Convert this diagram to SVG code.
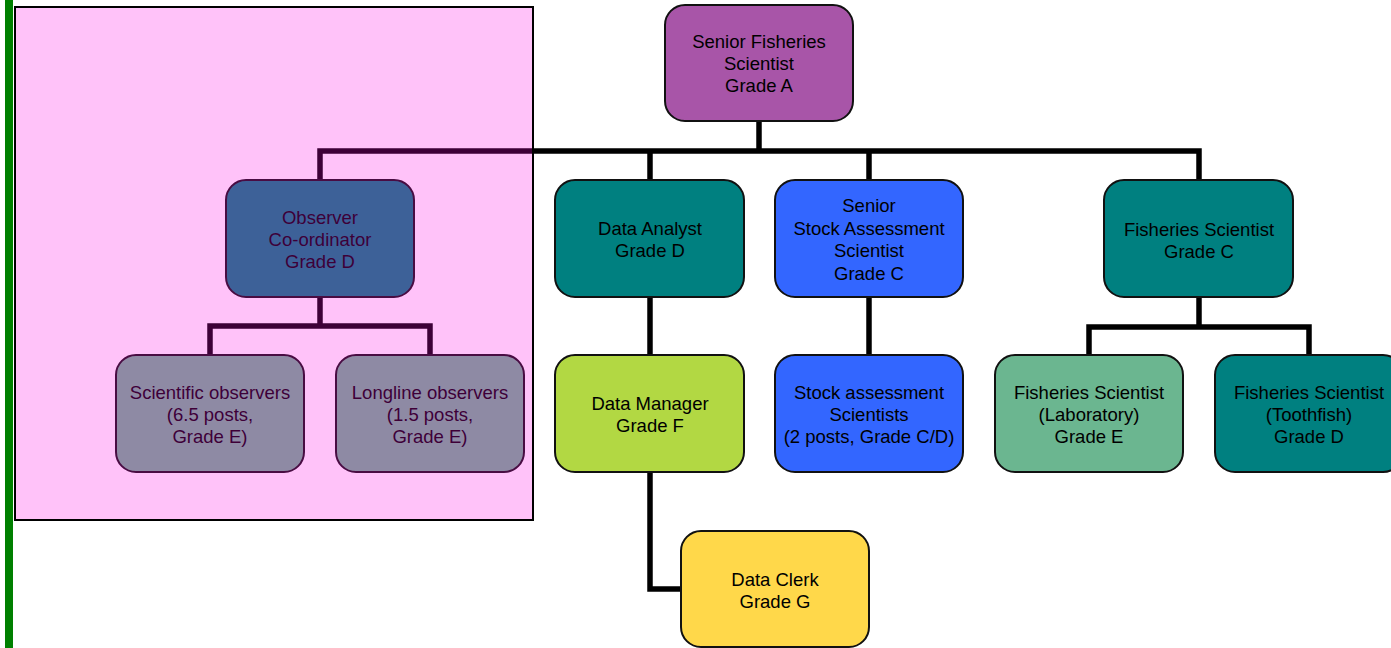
<svg xmlns="http://www.w3.org/2000/svg" width="1391" height="648" viewBox="0 0 1391 648">
<style>
.box{stroke:#111;stroke-width:2}
.t{font-family:"Liberation Sans",Arial,sans-serif;font-size:18.5px;fill:#000;text-anchor:middle}
.c{fill:none;stroke:#000;stroke-width:5.5;stroke-linejoin:miter}
</style>
<rect x="0" y="0" width="1391" height="648" fill="#fff"/>
<rect x="5" y="0" width="8" height="648" fill="#008000"/>
<g id="connectors">
<path class="c" d="M759,121 V151"/>
<path class="c" d="M320,180 V151 H1199 V180"/>
<path class="c" d="M650,151 V180"/>
<path class="c" d="M869,151 V180"/>
<path class="c" d="M320,297 V326"/>
<path class="c" d="M210,355 V326 H430 V355"/>
<path class="c" d="M650,297 V355"/>
<path class="c" d="M650,472 V589 H681"/>
<path class="c" d="M869,297 V355"/>
<path class="c" d="M1199,297 V327"/>
<path class="c" d="M1089,355 V327 H1309 V355"/>
</g>
<g id="n-senior">
<rect class="box" x="665" y="5" width="188" height="116" rx="20" fill="#A855A8"/>
<text class="t" x="759" y="48">Senior Fisheries</text>
<text class="t" x="759" y="70">Scientist</text>
<text class="t" x="759" y="92">Grade A</text>
</g>
<g id="n-observer-coord">
<rect class="box" x="226" y="180" width="188" height="117" rx="20" fill="#008080"/>
<text class="t" x="320" y="224">Observer</text>
<text class="t" x="320" y="246">Co-ordinator</text>
<text class="t" x="320" y="268">Grade D</text>
</g>
<g id="n-data-analyst">
<rect class="box" x="555" y="180" width="189" height="117" rx="20" fill="#008080"/>
<text class="t" x="650" y="235">Data Analyst</text>
<text class="t" x="650" y="257">Grade D</text>
</g>
<g id="n-senior-stock">
<rect class="box" x="775" y="180" width="188" height="117" rx="20" fill="#3366FF"/>
<text class="t" x="869" y="212">Senior</text>
<text class="t" x="869" y="235">Stock Assessment</text>
<text class="t" x="869" y="257">Scientist</text>
<text class="t" x="869" y="280">Grade C</text>
</g>
<g id="n-fish-c">
<rect class="box" x="1104" y="180" width="189" height="117" rx="20" fill="#008080"/>
<text class="t" x="1199" y="236">Fisheries Scientist</text>
<text class="t" x="1199" y="258">Grade C</text>
</g>
<g id="n-sci-obs">
<rect class="box" x="116" y="355" width="188" height="117" rx="20" fill="#6BB690"/>
<text class="t" x="210" y="399">Scientific observers</text>
<text class="t" x="210" y="421">(6.5 posts,</text>
<text class="t" x="210" y="443">Grade E)</text>
</g>
<g id="n-long-obs">
<rect class="box" x="336" y="355" width="188" height="117" rx="20" fill="#6BB690"/>
<text class="t" x="430" y="399">Longline observers</text>
<text class="t" x="430" y="421">(1.5 posts,</text>
<text class="t" x="430" y="443">Grade E)</text>
</g>
<g id="n-data-manager">
<rect class="box" x="555" y="355" width="189" height="117" rx="20" fill="#B2D843"/>
<text class="t" x="650" y="410">Data Manager</text>
<text class="t" x="650" y="432">Grade F</text>
</g>
<g id="n-stock-sci">
<rect class="box" x="775" y="355" width="188" height="117" rx="20" fill="#3366FF"/>
<text class="t" x="869" y="399">Stock assessment</text>
<text class="t" x="869" y="421">Scientists</text>
<text class="t" x="869" y="443">(2 posts, Grade C/D)</text>
</g>
<g id="n-fish-lab">
<rect class="box" x="995" y="355" width="188" height="117" rx="20" fill="#6BB690"/>
<text class="t" x="1089" y="399">Fisheries Scientist</text>
<text class="t" x="1089" y="421">(Laboratory)</text>
<text class="t" x="1089" y="443">Grade E</text>
</g>
<g id="n-fish-tooth">
<rect class="box" x="1215" y="355" width="188" height="117" rx="20" fill="#008080"/>
<text class="t" x="1309" y="399">Fisheries Scientist</text>
<text class="t" x="1309" y="421">(Toothfish)</text>
<text class="t" x="1309" y="443">Grade D</text>
</g>
<g id="n-data-clerk">
<rect class="box" x="681" y="531" width="188" height="116" rx="20" fill="#FFD84A"/>
<text class="t" x="775" y="586">Data Clerk</text>
<text class="t" x="775" y="608">Grade G</text>
</g>
<g id="overlay">
<rect x="15" y="7" width="518" height="513" fill="#FF00E6" fill-opacity="0.24"/>
<rect x="15" y="7" width="518" height="513" fill="none" stroke="#000" stroke-width="2"/>
</g>
</svg>
